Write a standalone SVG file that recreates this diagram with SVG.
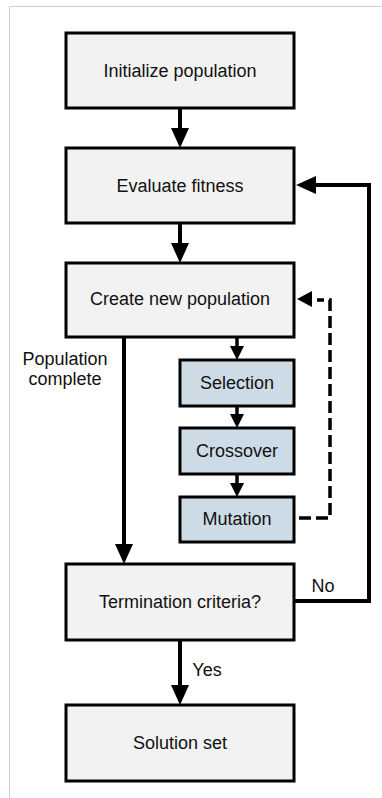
<svg xmlns="http://www.w3.org/2000/svg" width="382" height="798" viewBox="0 0 382 798">
  <style>
    .box { fill: #f2f2f2; stroke: #000; stroke-width: 3; }
    .sub { fill: #cddbe7; stroke: #000; stroke-width: 3; }
    .lbl { font-family: "Liberation Sans", Arial, sans-serif; font-size: 18px; fill: #111; text-anchor: middle; }
    .edge { fill: none; stroke: #000; stroke-width: 4; }
    .thin { fill: none; stroke: #000; stroke-width: 3.5; }
    .dash { fill: none; stroke: #000; stroke-width: 3.5; stroke-dasharray: 12 5; }
    .head { fill: #000; }
  </style>
  <rect x="0" y="0" width="382" height="798" fill="#fff"/>
  <!-- outer frame -->
  <path d="M9.5 798 V6.5 H382" fill="none" stroke="#d0d0d0" stroke-width="1"/>

  <g id="connectors">
    <!-- Initialize -> Evaluate -->
    <line class="edge" x1="180" y1="108" x2="180" y2="130"/>
    <polygon class="head" points="171,128 189,128 180,148"/>
    <!-- Evaluate -> Create -->
    <line class="edge" x1="180" y1="223" x2="180" y2="245"/>
    <polygon class="head" points="171,243 189,243 180,263"/>
    <!-- Create -> Selection -->
    <line class="thin" x1="237" y1="337" x2="237" y2="348"/>
    <polygon class="head" points="230,346 244,346 237,360"/>
    <!-- Selection -> Crossover -->
    <line class="thin" x1="237" y1="406" x2="237" y2="416"/>
    <polygon class="head" points="230,414 244,414 237,428"/>
    <!-- Crossover -> Mutation -->
    <line class="thin" x1="237" y1="474" x2="237" y2="485"/>
    <polygon class="head" points="230,483 244,483 237,497"/>
    <!-- Mutation -> Create (dashed loop) -->
    <path class="dash" d="M299 518 H330 V300 H317"/>
    <polygon class="head" points="297,299 312,291 312,307"/>
    <!-- Create -> Termination (population complete) -->
    <line class="edge" x1="124" y1="337" x2="124" y2="546"/>
    <polygon class="head" points="115,544 133,544 124,564"/>
    <!-- Termination -> Evaluate (No) -->
    <path class="edge" d="M294 601 H369 V185 H312"/>
    <polygon class="head" points="296,185 316,176 316,194"/>
    <!-- Termination -> Solution (Yes) -->
    <line class="edge" x1="180" y1="640" x2="180" y2="687"/>
    <polygon class="head" points="171,685 189,685 180,705"/>
  </g>

  <g id="init">
    <rect class="box" x="66" y="33" width="228" height="75"/>
    <text class="lbl" x="180" y="77">Initialize population</text>
  </g>
  <g id="evaluate">
    <rect class="box" x="66" y="148" width="228" height="75"/>
    <text class="lbl" x="180" y="192">Evaluate fitness</text>
  </g>
  <g id="create">
    <rect class="box" x="66" y="263" width="228" height="74"/>
    <text class="lbl" x="180" y="305">Create new population</text>
  </g>
  <g id="selection">
    <rect class="sub" x="180" y="360" width="114" height="46"/>
    <text class="lbl" x="237" y="389">Selection</text>
  </g>
  <g id="crossover">
    <rect class="sub" x="180" y="428" width="114" height="46"/>
    <text class="lbl" x="237" y="457">Crossover</text>
  </g>
  <g id="mutation">
    <rect class="sub" x="180" y="497" width="114" height="45"/>
    <text class="lbl" x="237" y="525">Mutation</text>
  </g>
  <g id="termination">
    <rect class="box" x="66" y="564" width="228" height="76"/>
    <text class="lbl" x="180" y="608">Termination criteria?</text>
  </g>
  <g id="solution">
    <rect class="box" x="66" y="705" width="228" height="76"/>
    <text class="lbl" x="180" y="749">Solution set</text>
  </g>

  <g id="edge-labels">
    <text class="lbl" x="65" y="365">Population</text>
    <text class="lbl" x="65" y="385">complete</text>
    <text class="lbl" x="323" y="592">No</text>
    <text class="lbl" x="207" y="676">Yes</text>
  </g>
</svg>
